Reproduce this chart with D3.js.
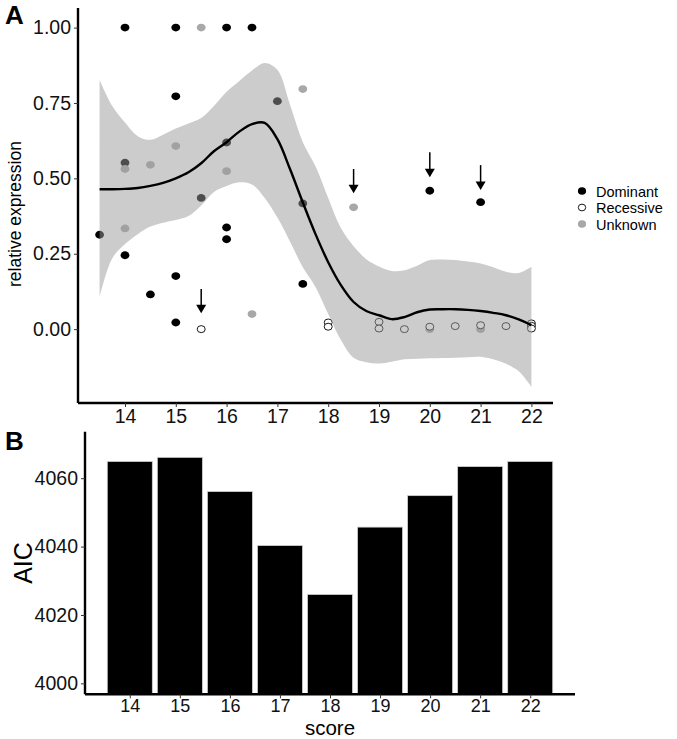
<!DOCTYPE html>
<html>
<head>
<meta charset="utf-8">
<script src="https://cdn.jsdelivr.net/npm/d3@7"></script>
<style>
  html, body { margin: 0; padding: 0; background: #fff; }
  svg { display: block; font-family: "Liberation Sans", Arial, sans-serif; }
</style>
</head>
<body>
<svg id="chart" width="677" height="739"></svg>
<script>
// ---------- Panel A data ----------
const dominantX = [14, 15, 16, 16.5, 15, 14, 16, 17, 15.5, 13.5, 14, 16, 16, 15, 14.5, 15, 17.5, 17.5, 20, 21];
const dominantY = [1.00, 1.00, 1.00, 1.00, 0.772, 0.552, 0.619, 0.756, 0.435, 0.313, 0.245, 0.337, 0.298, 0.176, 0.115, 0.022, 0.150, 0.417, 0.459, 0.421];
const unknownX = [15.5, 15, 14, 14.5, 16, 17.5, 14, 16.5, 18.5, 20, 21];
const unknownY = [1.00, 0.607, 0.531, 0.545, 0.524, 0.796, 0.334, 0.05, 0.404, 0.0, 0.0];
const recessiveX = [15.5, 18, 18, 19, 19, 19.5, 20, 20.5, 21, 21.5, 22, 22, 22];
const recessiveY = [0.0, 0.022, 0.008, 0.024, 0.002, 0.0, 0.008, 0.01, 0.013, 0.01, 0.019, 0.011, 0.002];

// loess fit and confidence band
const smoothX = [13.5, 13.75, 14, 14.25, 14.5, 14.75, 15, 15.25, 15.5, 15.75, 16, 16.25, 16.5, 16.75, 17, 17.25, 17.5, 17.75, 18, 18.25, 18.5, 18.75, 19, 19.25, 19.5, 19.75, 20, 20.25, 20.5, 20.75, 21, 21.25, 21.5, 21.75, 22];
const smoothFit = [0.464, 0.464, 0.465, 0.468, 0.475, 0.485, 0.50, 0.52, 0.55, 0.59, 0.62, 0.655, 0.68, 0.684, 0.63, 0.53, 0.42, 0.315, 0.222, 0.146, 0.09, 0.06, 0.046, 0.033, 0.04, 0.056, 0.065, 0.066, 0.066, 0.064, 0.06, 0.054, 0.046, 0.032, 0.013];
const smoothUpper = [0.826, 0.74, 0.685, 0.64, 0.628, 0.645, 0.665, 0.682, 0.70, 0.74, 0.787, 0.823, 0.858, 0.883, 0.86, 0.743, 0.62, 0.54, 0.435, 0.335, 0.275, 0.232, 0.208, 0.193, 0.195, 0.21, 0.229, 0.231, 0.229, 0.224, 0.218, 0.205, 0.19, 0.186, 0.207];
const smoothLower = [0.107, 0.235, 0.282, 0.315, 0.34, 0.353, 0.362, 0.375, 0.41, 0.455, 0.475, 0.487, 0.48, 0.435, 0.37, 0.29, 0.205, 0.14, 0.05, -0.036, -0.095, -0.11, -0.114, -0.108, -0.1, -0.098, -0.097, -0.096, -0.095, -0.093, -0.092, -0.1, -0.115, -0.14, -0.191];

// arrows: x, start value, tip value
const arrowX = [15.5, 18.5, 20, 21];
const arrowFrom = [0.133, 0.531, 0.587, 0.544];
const arrowTo = [0.053, 0.451, 0.504, 0.461];

const xTicksA = [14, 15, 16, 17, 18, 19, 20, 21, 22];
const yTicksA = [0, 0.25, 0.5, 0.75, 1.0];
const legendLabels = ["Dominant", "Recessive", "Unknown"];

// ---------- Panel B data ----------
const scores = [14, 15, 16, 17, 18, 19, 20, 21, 22];
const aic = [4064.9, 4066.1, 4056.1, 4040.3, 4026.0, 4045.7, 4054.9, 4063.4, 4064.9];
const yTicksB = [4000, 4020, 4040, 4060];

// ---------- drawing ----------
const svg = d3.select("#chart");
const FONT_TICK = 19.5;

// Panel A scales
const xA = d3.scaleLinear().domain([13.075, 22.425]).range([78, 553]);
const yA = d3.scaleLinear().domain([-0.245, 1.065]).range([403, 8]);

const gA = svg.append("g");

const points = [];
dominantX.forEach((x, i) => points.push({x, y: dominantY[i], g: "Dominant"}));
unknownX.forEach((x, i) => points.push({x, y: unknownY[i], g: "Unknown"}));
recessiveX.forEach((x, i) => points.push({x, y: recessiveY[i], g: "Recessive"}));

const styleFill = {Dominant: "#000", Recessive: "#fff", Unknown: "#a8a8a8"};
const styleStroke = {Dominant: "none", Recessive: "#000", Unknown: "none"};

gA.selectAll("ellipse.pt").data(points).join("ellipse")
  .attr("class", "pt")
  .attr("cx", d => xA(d.x)).attr("cy", d => yA(d.y))
  .attr("rx", d => d.g === "Recessive" ? 4 : 4.4)
  .attr("ry", d => d.g === "Recessive" ? 3.5 : 3.9)
  .attr("fill", d => styleFill[d.g])
  .attr("stroke", d => styleStroke[d.g])
  .attr("stroke-width", 0.9);

const band = smoothX.map((x, i) => ({x, fit: smoothFit[i], lo: smoothLower[i], hi: smoothUpper[i]}));

gA.append("path").datum(band)
  .attr("d", d3.area().x(d => xA(d.x)).y0(d => yA(d.lo)).y1(d => yA(d.hi)).curve(d3.curveCatmullRom))
  .attr("fill", "#999999").attr("fill-opacity", 0.5);

gA.append("path").datum(band)
  .attr("d", d3.line().x(d => xA(d.x)).y(d => yA(d.fit)).curve(d3.curveCatmullRom))
  .attr("fill", "none").attr("stroke", "#000").attr("stroke-width", 2.4);

// arrows
arrowX.forEach((x, i) => {
  const px = xA(x), y0 = yA(arrowFrom[i]), y1 = yA(arrowTo[i]);
  gA.append("line").attr("x1", px).attr("x2", px).attr("y1", y0).attr("y2", y1 - 6)
    .attr("stroke", "#000").attr("stroke-width", 1.5);
  gA.append("path")
    .attr("d", `M${px - 5},${y1 - 8.5} L${px + 5},${y1 - 8.5} L${px},${y1} Z`)
    .attr("fill", "#000");
});

// axes A
const axA_x = gA.append("g").attr("transform", `translate(0,${yA.range()[0]})`)
  .call(d3.axisBottom(xA).tickValues(xTicksA).tickFormat(d3.format("d")).tickSize(4).tickSizeOuter(0).tickPadding(2));
const axA_y = gA.append("g").attr("transform", `translate(${xA.range()[0]},0)`)
  .call(d3.axisLeft(yA).tickValues(yTicksA).tickFormat(d3.format(".2f")).tickSize(4).tickSizeOuter(0).tickPadding(3));

[axA_x, axA_y].forEach(a => {
  a.select(".domain").attr("stroke", "#000").attr("stroke-width", 2.4);
  a.selectAll(".tick line").attr("stroke", "#333").attr("stroke-width", 1);
  a.selectAll(".tick text").attr("font-size", FONT_TICK).attr("fill", "#111").attr("font-family", "Liberation Sans, Arial, sans-serif");
});
axA_x.select(".domain").attr("d", `M${xA.range()[0]},0H${xA.range()[1]}`);
axA_y.select(".domain").attr("d", `M0,${yA.range()[0]}V${yA.range()[1]}`);

// y label A
gA.append("text")
  .attr("transform", `translate(21,214) rotate(-90)`)
  .attr("text-anchor", "middle")
  .attr("font-size", 17.5).attr("fill", "#000")
  .text("relative expression");

// legend
const legG = gA.append("g");
legendLabels.forEach((lab, i) => {
  const cy = 191 + i * 16.5;
  legG.append("ellipse").attr("cx", 582).attr("cy", cy).attr("rx", lab === "Recessive" ? 3.7 : 4.1).attr("ry", lab === "Recessive" ? 3.4 : 3.8)
    .attr("fill", styleFill[lab]).attr("stroke", styleStroke[lab]).attr("stroke-width", 0.9);
  legG.append("text").attr("x", 596).attr("y", cy + 5.5).attr("font-size", 14.5).attr("fill", "#000").text(lab);
});

// panel label A
svg.append("text").attr("x", 5).attr("y", 24).attr("font-size", 26).attr("font-weight", "bold").text("A");

// Panel B
const xB = d3.scaleLinear().domain([13.105, 22.895]).range([85, 575]);
const yB = d3.scaleLinear().domain([3996.8, 4073.6]).range([694.3, 431.7]);
const gB = svg.append("g");
const barW = xB(14.45) - xB(13.55);

gB.selectAll("rect.bar").data(scores.map((s, i) => ({s, v: aic[i]}))).join("rect")
  .attr("class", "bar")
  .attr("x", d => xB(d.s) - barW / 2)
  .attr("width", barW)
  .attr("y", d => yB(d.v))
  .attr("height", d => yB.range()[0] - yB(d.v))
  .attr("fill", "#000").attr("stroke", "#d0d0d0").attr("stroke-width", 0.8);

const axB_x = gB.append("g").attr("transform", `translate(0,${yB.range()[0]})`)
  .call(d3.axisBottom(xB).tickValues(scores).tickFormat(d3.format("d")).tickSize(4).tickSizeOuter(0).tickPadding(1));
const axB_y = gB.append("g").attr("transform", `translate(${xB.range()[0]},0)`)
  .call(d3.axisLeft(yB).tickValues(yTicksB).tickFormat(d3.format("d")).tickSize(4).tickSizeOuter(0).tickPadding(3));
[axB_x, axB_y].forEach(a => {
  a.select(".domain").attr("stroke", "#000").attr("stroke-width", 2.4);
  a.selectAll(".tick line").attr("stroke", "#333").attr("stroke-width", 1);
  a.selectAll(".tick text").attr("font-size", FONT_TICK).attr("fill", "#111").attr("font-family", "Liberation Sans, Arial, sans-serif");
});
axB_x.selectAll(".tick text").attr("font-size", 18);
axB_x.select(".domain").attr("d", `M${xB.range()[0]},0H${xB.range()[1]}`);
axB_y.select(".domain").attr("d", `M0,${yB.range()[0]}V${yB.range()[1]}`);

gB.append("text").attr("x", (xB.range()[0] + xB.range()[1]) / 2).attr("y", 735)
  .attr("text-anchor", "middle").attr("font-size", 20.5).attr("fill", "#000").text("score");
gB.append("text").attr("transform", `translate(32,563) rotate(-90)`)
  .attr("text-anchor", "middle").attr("font-size", 25).attr("fill", "#000").text("AIC");

svg.append("text").attr("x", 5).attr("y", 450).attr("font-size", 26).attr("font-weight", "bold").text("B");
</script>
</body>
</html>
